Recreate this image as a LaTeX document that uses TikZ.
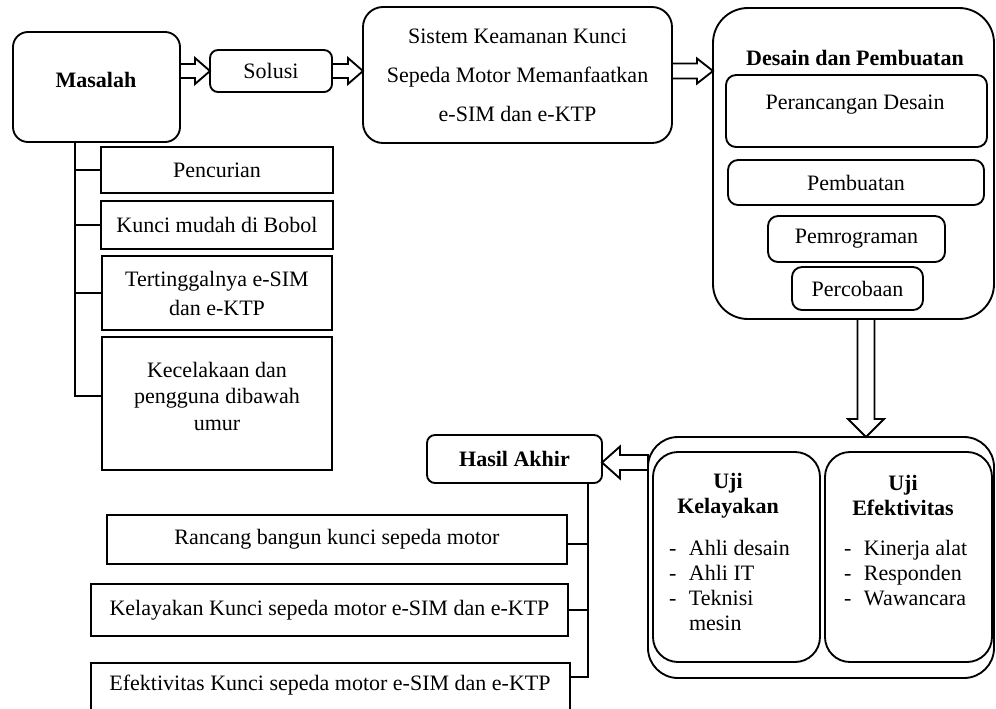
\documentclass[tikz,border=0pt]{standalone}
\usepackage{fontspec}
\setmainfont{Liberation Serif}
\usetikzlibrary{calc}
\newlength\px
\setlength\px{0.75pt}
\begin{document}
\begin{tikzpicture}[x=0.75pt,y=-0.75pt,
  txt/.style={font=\fontsize{16.5}{19}\selectfont},
  btxt/.style={font=\fontsize{16.5}{19}\selectfont\bfseries},
  every node/.style={inner sep=0pt, outer sep=0pt},
  frame/.style={draw, line width=1.4pt, fill=white},
  rbox/.style={frame, rounded corners=#1},
  sbox/.style={frame},
  blk/.style={draw, line width=1.4pt, fill=white, line join=miter},
  link/.style={draw, line width=1.4pt},
]
\useasboundingbox (0,0) rectangle (996,708);
\clip (0,0) rectangle (996,708);

% --- problem block ---
\node[rbox=15\px, minimum width=167\px, minimum height=110\px] (masalah) at (96.5,87) {};
\node[btxt] (masalahtxt) at (96,80) {Masalah};

\node[sbox, txt, minimum width=232\px, minimum height=46\px] (pencurian) at (217,170) {Pencurian};
\node[sbox, txt, minimum width=232\px, minimum height=48\px] (kunci) at (217,225) {Kunci mudah di Bobol};
\node[sbox, align=center, font=\fontsize{16.5}{21.75}\selectfont, minimum width=230\px, minimum height=74\px] (tertinggal) at (217,293) {Tertinggalnya e-SIM\\dan e-KTP};
\node[sbox, minimum width=230\px, minimum height=133\px] (kecelakaan) at (217,403.5) {};
\node[align=center, font=\fontsize{16.5}{19.9}\selectfont] (kecelakaantxt) at (217,396) {Kecelakaan dan\\pengguna dibawah\\umur};

% --- solution chain ---
\node[rbox=8\px, txt, minimum width=122\px, minimum height=42\px] (solusi) at (271,71) {Solusi};
\node[rbox=20\px, align=center, font=\fontsize{16.5}{29.25}\selectfont, minimum width=309\px, minimum height=136\px] (sistem) at (517.5,75) {Sistem Keamanan Kunci\\Sepeda Motor Memanfaatkan\\e-SIM dan e-KTP};

% --- design and build ---
\node[rbox=35\px, minimum width=281\px, minimum height=311\px] (desain) at (853.5,163.5) {};
\node[btxt] (desaintitle) at (855,58) {Desain dan Pembuatan};
\node[rbox=10\px, minimum width=261\px, minimum height=72\px] (perancangan) at (856.5,111) {};
\node[txt] (perancangantxt) at (855,105) {Perancangan Desain};
\node[rbox=10\px, txt, minimum width=256\px, minimum height=45\px] (pembuatan) at (856,182.5) {Pembuatan};
\node[rbox=10\px, txt, minimum width=177\px, minimum height=46\px] (pemrograman) at (856.5,239) {Pemrograman};
\node[rbox=10\px, txt, minimum width=131\px, minimum height=43\px] (percobaan) at (857.5,288.5) {Percobaan};

% --- tests ---
\node[rbox=30\px, minimum width=346\px, minimum height=241\px] (ujiout) at (821,557.5) {};
\node[rbox=25\px, minimum width=167\px, minimum height=210\px] (ujik) at (736.5,557) {};
\node[rbox=25\px, minimum width=167\px, minimum height=210\px] (ujie) at (908.5,557) {};
\node[align=center, font=\fontsize{16.5}{18.75}\selectfont\bfseries] (ujiktitle) at (728,495.5) {Uji\\Kelayakan};
\node[align=center, font=\fontsize{16.5}{18.75}\selectfont\bfseries] (ujietitle) at (903,495.5) {Uji\\Efektivitas};
\node[anchor=base west, font=\fontsize{16.5}{18.75}\selectfont] (ujiklist) at (669,555.5)
  {\begin{tabular}[t]{@{}l@{\hspace{9.5pt}}l@{}}-&Ahli desain\\-&Ahli IT\\-&Teknisi\\&mesin\end{tabular}};
\node[anchor=base west, font=\fontsize{16.5}{18.75}\selectfont] (ujielist) at (844,555.5)
  {\begin{tabular}[t]{@{}l@{\hspace{9.5pt}}l@{}}-&Kinerja alat\\-&Responden\\-&Wawancara\end{tabular}};

% --- results ---
\node[rbox=8\px, btxt, minimum width=175\px, minimum height=48\px] (hasil) at (514.5,459) {Hasil Akhir};
\node[sbox, txt, minimum width=460\px, minimum height=49\px] (rancang) at (337,539.5) {Rancang bangun kunci sepeda motor};
\node[sbox, txt, minimum width=477\px, minimum height=52\px] (kelayakan) at (329.5,610) {Kelayakan Kunci sepeda motor e-SIM dan e-KTP};
\node[sbox, minimum width=479\px, minimum height=49\px] (efektivitas) at (330.5,687.5) {};
\node[txt] (efektivitastxt) at (330,685) {Efektivitas Kunci sepeda motor e-SIM dan e-KTP};

% --- tree connectors ---
\coordinate (mtrunk) at ([xshift=62\px]masalah.south west);
\draw[link] (mtrunk) |- (kecelakaan.west |- kecelakaantxt.center);
\draw[link] (pencurian.west) -- (pencurian.west -| mtrunk);
\draw[link] (kunci.west) -- (kunci.west -| mtrunk);
\draw[link] (tertinggal.west) -- (tertinggal.west -| mtrunk);

\coordinate (htrunk) at ([xshift=-14\px]hasil.south east);
\coordinate (hefek) at ([yshift=10.5\px]efektivitas.east);
\coordinate (hranc) at ([yshift=-4.5\px]rancang.east);
\draw[link] (htrunk) |- (hefek);
\draw[link] (hranc) -- (hranc -| htrunk);
\draw[link] (kelayakan.east) -- (kelayakan.east -| htrunk);

% --- hollow block arrows ---
\draw[blk] (masalah.east |- solusi.center) ++(0,-7) -- ++(15,0) -- ++(0,-6) -- ++(15,13) -- ++(-15,13) -- ++(0,-6) -- ++(-15,0) -- cycle;
\draw[blk] (solusi.east) ++(0,-7) -- ++(16,0) -- ++(0,-6) -- ++(15,13) -- ++(-15,13) -- ++(0,-6) -- ++(-16,0) -- cycle;
\draw[blk] (sistem.east |- solusi.center) ++(0,-7.5) -- ++(25,0) -- ++(0,-5) -- ++(16,12.5) -- ++(-16,12.5) -- ++(0,-5) -- ++(-25,0) -- cycle;
\draw[blk] ([xshift=12.5\px]desain.south) ++(-8.5,0) -- ++(0,100) -- ++(-9.5,0) -- ++(18,18) -- ++(18,-18) -- ++(-9.5,0) -- ++(0,-100) -- cycle;
\coordinate (harrow) at ([yshift=-3.5\px]hasil.east);
\draw[blk] (ujiout.west |- harrow) ++(0,-7.5) -- ++(-28,0) -- ++(0,-8.5) -- ++(-18,16) -- ++(18,16) -- ++(0,-8.5) -- ++(28,0) -- cycle;
\end{tikzpicture}
\end{document}
